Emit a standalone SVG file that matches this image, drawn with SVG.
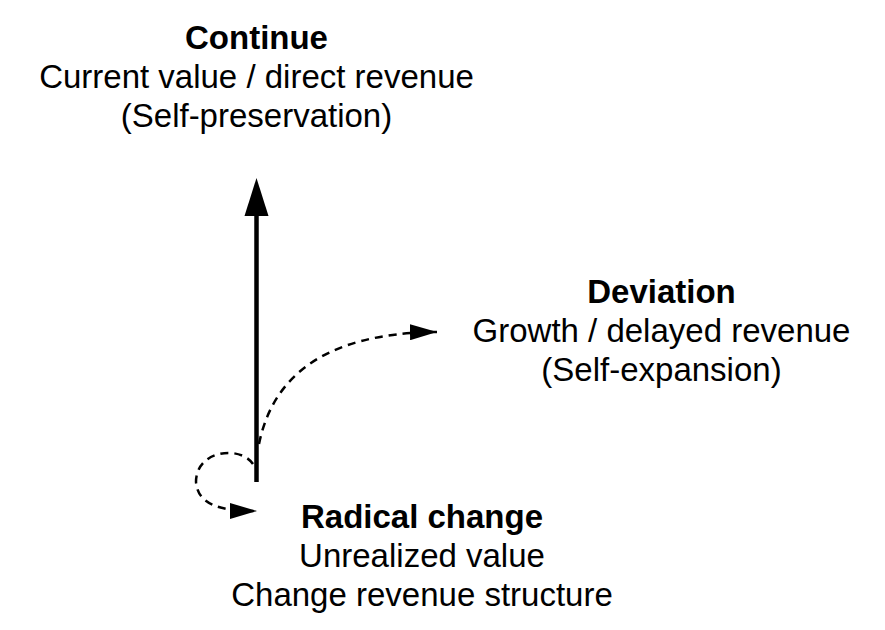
<svg xmlns="http://www.w3.org/2000/svg" width="885" height="630" viewBox="0 0 885 630">
<style>
text{font-family:"Liberation Sans",Arial,sans-serif;font-size:33px;fill:#000;text-anchor:middle}
.b{font-weight:bold}
.dash{fill:none;stroke:#000;stroke-width:2.5;stroke-dasharray:8 6}
</style>
<defs>
<marker id="ah" markerUnits="userSpaceOnUse" markerWidth="27" markerHeight="16" refX="27" refY="8" orient="auto">
<path d="M0,0 L27,8 L0,16 Z" fill="#000"/>
</marker>
</defs>
<rect width="885" height="630" fill="#fff"/>
<g id="connectors">
<line x1="256.5" y1="482" x2="256.5" y2="212" stroke="#000" stroke-width="4.5"/>
<path d="M256.5,178 L268.5,216 L244.5,216 Z" fill="#000"/>
<path class="dash" d="M259,444 C272,380 320,333 437,332" marker-end="url(#ah)"/>
<path class="dash" d="M253,464 C240,445 196,450 196,482 C198,505 220,511 257,511" marker-end="url(#ah)"/>
</g>
<g id="continue">
<text x="256.5" y="49" class="b">Continue</text>
<text x="256.5" y="88">Current value / direct revenue</text>
<text x="256.5" y="127">(Self-preservation)</text>
</g>
<g id="deviation">
<text x="661.5" y="303" class="b">Deviation</text>
<text x="661.5" y="342">Growth / delayed revenue</text>
<text x="661.5" y="381">(Self-expansion)</text>
</g>
<g id="radical">
<text x="422" y="528" class="b">Radical change</text>
<text x="422" y="567">Unrealized value</text>
<text x="422" y="606">Change revenue structure</text>
</g>
</svg>
